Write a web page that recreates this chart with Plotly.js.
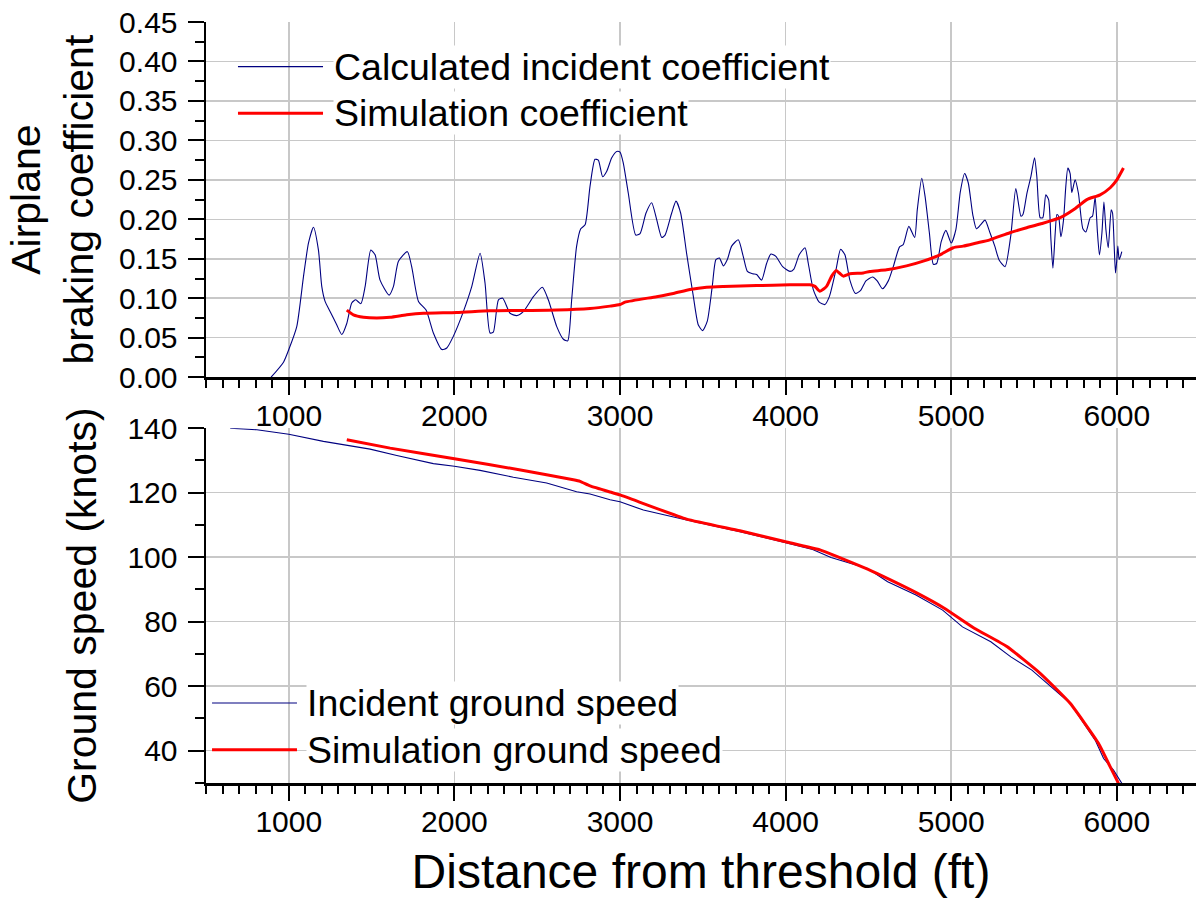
<!DOCTYPE html>
<html>
<head>
<meta charset="utf-8">
<script src="https://cdn.plot.ly/plotly-3.0.1.min.js"></script>
<style>html,body{margin:0;padding:0;background:#fff;}#chart{width:1196px;height:911px;}</style>
</head>
<body>
<div id="chart"></div>
<script>
// ---------- Data ----------
// Top panel: airplane braking coefficient
const coefIncidentDist = [893,968,1000,1048,1089,1119,1149,1179,1199,1219,1250,1290,1320,1350,1380,1404,1435,1461,1495,1521,1551,1606,1632,1662,1716,1742,1783,1829,1873,1924,1954,1994,2054,2105,2155,2185,2215,2235,2266,2292,2336,2376,2416,2477,2531,2567,2618,2658,2684,2708,2738,2763,2789,2819,2849,2869,2895,2920,2950,2980,3000,3020,3050,3095,3121,3157,3191,3221,3252,3272,3312,3338,3366,3402,3443,3473,3499,3527,3557,3579,3600,3624,3648,3674,3714,3744,3769,3801,3825,3855,3885,3911,3941,3982,4026,4050,4082,4117,4137,4167,4203,4237,4264,4304,4332,4358,4388,4422,4453,4485,4525,4553,4585,4620,4650,4688,4710,4744,4779,4795,4822,4842,4868,4892,4912,4940,4968,5000,5028,5055,5081,5103,5130,5152,5177,5204,5234,5263,5290,5325,5360,5390,5421,5433,5457,5481,5503,5517,5537,5553,5571,5588,5602,5614,5628,5638,5648,5662,5678,5692,5704,5718,5728,5748,5768,5795,5813,5839,5853,5869,5883,5895,5910,5922,5934,5948,5966,5974,5984,5992,6000,6006,6014,6022,6030];
const coefIncident = [0,0.019,0.035,0.064,0.128,0.170,0.190,0.161,0.115,0.096,0.083,0.066,0.054,0.068,0.094,0.098,0.093,0.115,0.161,0.155,0.123,0.104,0.115,0.147,0.159,0.140,0.096,0.085,0.056,0.035,0.037,0.052,0.083,0.115,0.157,0.119,0.056,0.057,0.098,0.100,0.081,0.078,0.083,0.102,0.114,0.098,0.064,0.048,0.046,0.098,0.166,0.188,0.193,0.242,0.276,0.275,0.254,0.261,0.278,0.286,0.285,0.271,0.233,0.180,0.182,0.208,0.221,0.200,0.177,0.180,0.208,0.223,0.208,0.157,0.102,0.066,0.059,0.071,0.115,0.149,0.151,0.141,0.149,0.166,0.174,0.153,0.134,0.131,0.130,0.123,0.144,0.156,0.153,0.140,0.134,0.137,0.155,0.164,0.144,0.111,0.095,0.092,0.102,0.136,0.162,0.155,0.123,0.106,0.110,0.122,0.127,0.122,0.112,0.122,0.140,0.165,0.168,0.191,0.177,0.212,0.252,0.229,0.183,0.143,0.144,0.172,0.186,0.170,0.187,0.235,0.258,0.246,0.206,0.188,0.193,0.199,0.183,0.166,0.148,0.140,0.180,0.239,0.204,0.206,0.233,0.254,0.278,0.254,0.202,0.202,0.231,0.225,0.174,0.138,0.183,0.206,0.204,0.178,0.199,0.242,0.265,0.258,0.234,0.250,0.233,0.188,0.184,0.202,0.204,0.228,0.183,0.155,0.183,0.222,0.187,0.164,0.212,0.208,0.166,0.132,0.149,0.166,0.149,0.153,0.159];

const coefSimDist = [1350,1390,1451,1531,1612,1712,1813,2014,2215,2416,2618,2819,2940,3000,3030,3221,3322,3423,3523,3624,3825,4026,4147,4177,4207,4247,4278,4304,4324,4348,4388,4469,4509,4610,4730,4831,4932,5012,5072,5153,5233,5354,5450,5537,5658,5738,5819,5899,5960,6000,6040];
const coefSim = [0.085,0.079,0.076,0.075,0.076,0.079,0.081,0.082,0.084,0.0845,0.085,0.087,0.090,0.092,0.095,0.102,0.106,0.111,0.114,0.115,0.116,0.117,0.117,0.115,0.109,0.115,0.128,0.135,0.132,0.128,0.131,0.132,0.134,0.136,0.141,0.147,0.155,0.164,0.166,0.170,0.174,0.183,0.189,0.194,0.202,0.212,0.225,0.231,0.240,0.250,0.265];

// Bottom panel: ground speed
const speedIncidentDist = [646,807,1000,1209,1491,1652,1873,2000,2155,2356,2557,2738,2819,2940,3000,3141,3402,3724,4000,4163,4274,4495,4616,4787,4948,5068,5239,5360,5487,5618,5718,5869,5920,5980,6030];
const speedIncident = [140,139.5,138.1,135.9,133.5,131.5,129.0,128.2,126.9,124.8,123.0,120.3,119.6,117.8,117.2,114.6,111.5,107.9,104.5,102.4,99.9,96.5,92.4,88.3,83.6,78.4,73.8,69.1,65.0,59.3,54.7,43.3,37.6,34.0,29.9];

const speedSimDist = [1350,1612,2000,2416,2718,2759,2819,2940,3000,3402,3724,4000,4211,4312,4495,4636,4797,4958,5139,5336,5537,5718,5889,5960,6010];
const speedSim = [136.4,133.8,130.5,126.9,124.0,123.5,122.1,120.2,119.3,111.8,108.2,104.8,102.2,100.2,96.3,92.9,88.8,84.2,78.0,72.3,64.0,54.7,42.3,35.0,29.9];

const seriesNames = ['Calculated incident coefficient','Simulation coefficient','Incident ground speed','Simulation ground speed'];
const xTitle = 'Distance from threshold (ft)';
const yTitleTop = 'Airplane<br>braking coefficient';
const yTitleBottom = 'Ground speed (knots)';

// ---------- Styling ----------
const NAVY = '#000080', RED = '#ff0000';
const FONT = 'Liberation Sans, Arial, Helvetica, sans-serif';
const GRID = '#c8c8c8';

const traces = [
  {x: coefIncidentDist, y: coefIncident, xaxis:'x2', yaxis:'y2', mode:'lines', name: seriesNames[0],
   line:{color:NAVY, width:1.1, shape:'spline', smoothing:0.6}},
  {x: coefSimDist, y: coefSim, xaxis:'x2', yaxis:'y2', mode:'lines', name: seriesNames[1],
   line:{color:RED, width:3, shape:'spline', smoothing:0.6}},
  {x: speedIncidentDist, y: speedIncident, xaxis:'x', yaxis:'y', mode:'lines', name: seriesNames[2],
   line:{color:NAVY, width:1.1}},
  {x: speedSimDist, y: speedSim, xaxis:'x', yaxis:'y', mode:'lines', name: seriesNames[3],
   line:{color:RED, width:3, shape:'spline', smoothing:0.4}}
];

const tickFont = {family: FONT, size: 30, color:'#000'};
function xAxisCfg(anchor, withTitle) {
  const a = {
    anchor: anchor, domain:[0,1], range:[500, 6478], autorange:false,
    tick0:0, dtick:1000, ticks:'outside', ticklen:15, tickwidth:2, tickcolor:'#000',
    showline:true, linewidth:2.5, linecolor:'#000', mirror:false,
    showgrid:true, gridcolor:GRID, gridwidth:1.5, zeroline:false,
    tickfont: tickFont, ticklabelstandoff: -5, automargin:false,
    minor:{dtick:100, ticks:'outside', ticklen:8, tickwidth:2, tickcolor:'#000', showgrid:false}
  };
  if (withTitle) a.title = {text: xTitle, font:{family:FONT, size:48, color:'#000'}, standoff: 18};
  return a;
}

const layout = {
  width:1196, height:911,
  margin:{l:206, r:0, t:22, b:127.7},
  paper_bgcolor:'#fff', plot_bgcolor:'#fff',
  showlegend:false,
  font:{family:FONT, color:'#000'},
  xaxis: xAxisCfg('y', true),
  xaxis2: xAxisCfg('y2', false),
  yaxis: {
    anchor:'x', domain:[0, 0.4663], range:[30,140], autorange:false,
    tick0:0, dtick:20, ticks:'outside', ticklen:16, tickwidth:2, tickcolor:'#000',
    showline:true, linewidth:2.5, linecolor:'#000',
    showgrid:true, gridcolor:GRID, gridwidth:1.5, zeroline:false,
    tickfont: tickFont, ticklabelstandoff: 4, automargin:false,
    minor:{dtick:10, ticks:'outside', ticklen:9, tickwidth:2, tickcolor:'#000', showgrid:false},
    title:{text: yTitleBottom, font:{family:FONT, size:41, color:'#000'}, standoff: 18}
  },
  yaxis2: {
    anchor:'x2', domain:[0.5333, 1], range:[0,0.45], autorange:false,
    tick0:0, dtick:0.05, tickformat:'.2f', ticks:'outside', ticklen:16, tickwidth:2, tickcolor:'#000',
    showline:true, linewidth:2.5, linecolor:'#000',
    showgrid:true, gridcolor:GRID, gridwidth:1.5, zeroline:false,
    tickfont: tickFont, ticklabelstandoff: 4, automargin:false,
    minor:{dtick:0.025, ticks:'outside', ticklen:9, tickwidth:2, tickcolor:'#000', showgrid:false},
    title:{text: yTitleTop, font:{family:FONT, size:41, color:'#000'}, standoff: 13}
  },
  // Legend drawn as in the original: long sample lines + text boxes with white background
  shapes: [
    {type:'line', xref:'paper', yref:'paper', x0:0.0323, x1:0.1182, y0:0.9413, y1:0.9413, line:{color:NAVY, width:1.1}},
    {type:'line', xref:'paper', yref:'paper', x0:0.0323, x1:0.1182, y0:0.8801, y1:0.8801, line:{color:RED, width:3}},
    {type:'line', xref:'paper', yref:'paper', x0:0.0061, x1:0.0919, y0:0.1051, y1:0.1051, line:{color:NAVY, width:1.1}},
    {type:'line', xref:'paper', yref:'paper', x0:0.0061, x1:0.0919, y0:0.0437, y1:0.0437, line:{color:RED, width:3}}
  ],
  annotations: [
    {text: seriesNames[0], xref:'paper', yref:'paper', x:0.1283, y:0.9413, xanchor:'left', yanchor:'middle', showarrow:false, bgcolor:'#fff', borderpad:0, font:{family:FONT, size:37.5, color:'#000'}},
    {text: seriesNames[1], xref:'paper', yref:'paper', x:0.1283, y:0.8801, xanchor:'left', yanchor:'middle', showarrow:false, bgcolor:'#fff', borderpad:0, font:{family:FONT, size:37.5, color:'#000'}},
    {text: seriesNames[2], xref:'paper', yref:'paper', x:0.1010, y:0.1051, xanchor:'left', yanchor:'middle', showarrow:false, bgcolor:'#fff', borderpad:0, font:{family:FONT, size:37.5, color:'#000'}},
    {text: seriesNames[3], xref:'paper', yref:'paper', x:0.1010, y:0.0437, xanchor:'left', yanchor:'middle', showarrow:false, bgcolor:'#fff', borderpad:0, font:{family:FONT, size:37.5, color:'#000'}}
  ]
};

Plotly.newPlot('chart', traces, layout, {displayModeBar:false, staticPlot:true});
</script>
</body>
</html>
